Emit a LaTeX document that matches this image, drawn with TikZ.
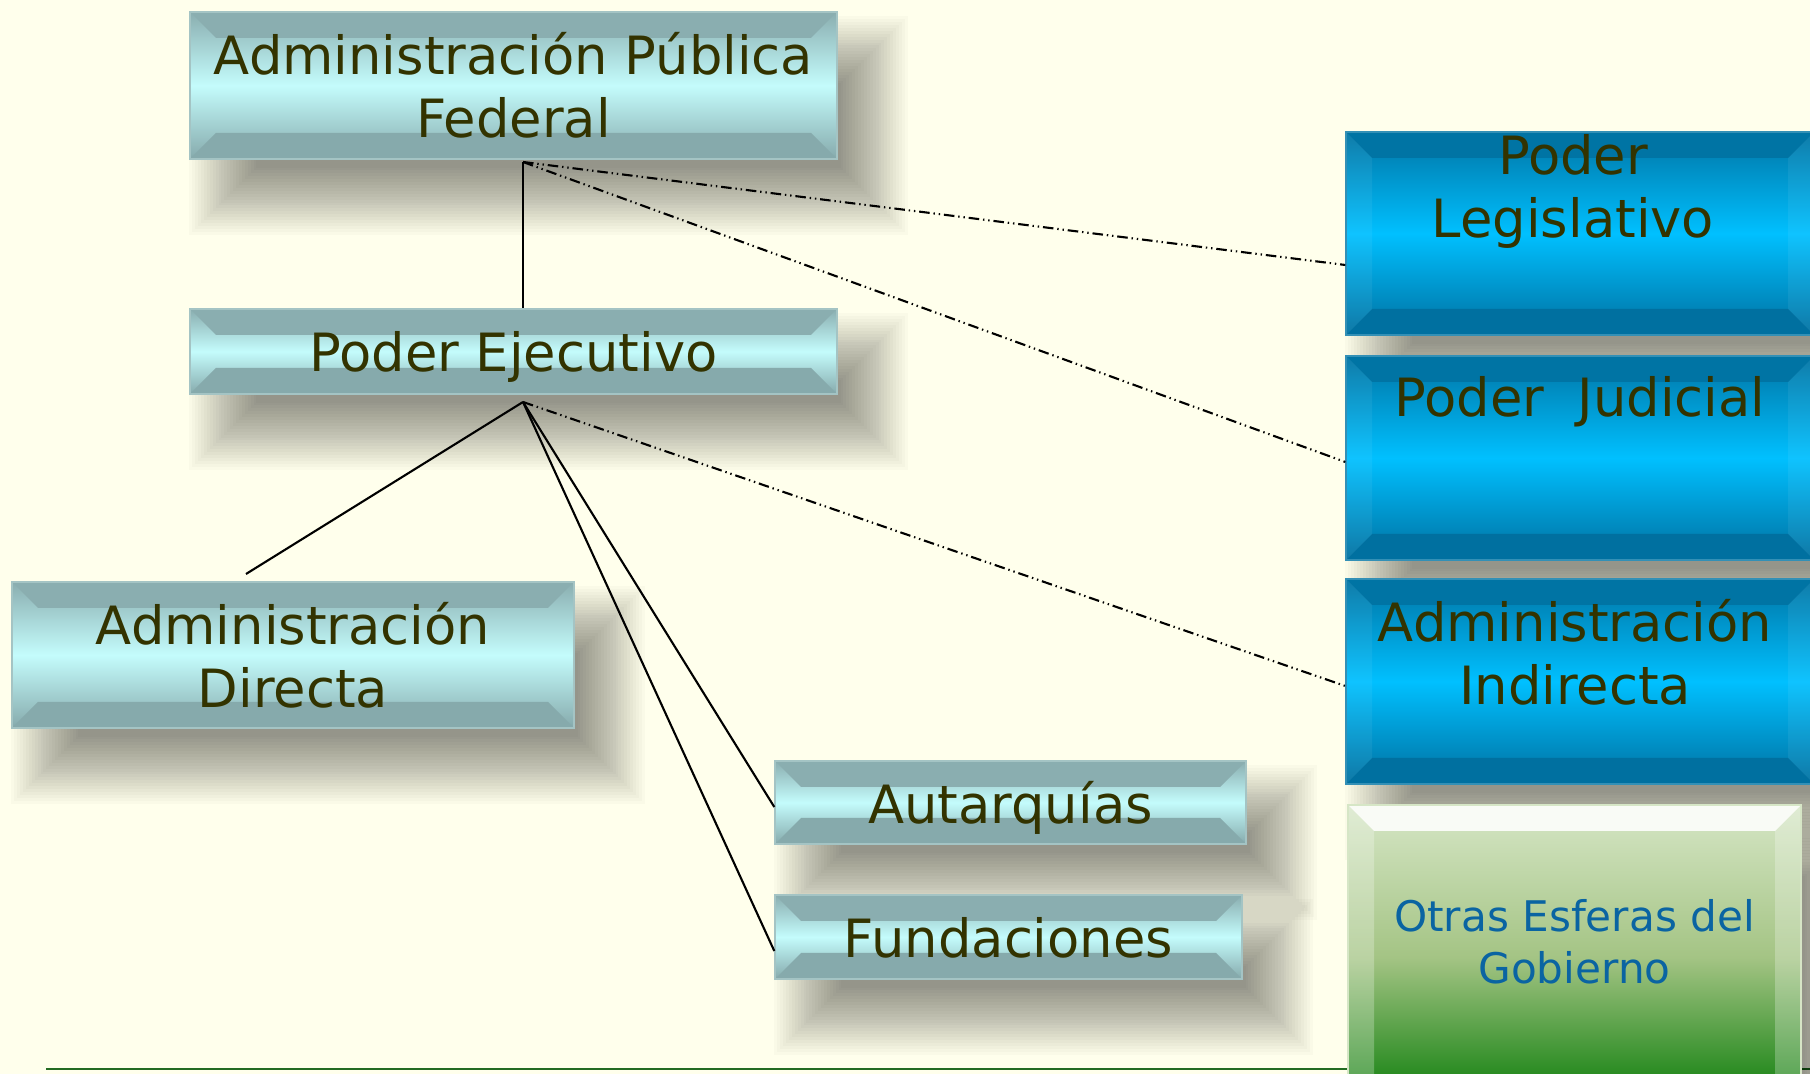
\documentclass[tikz,border=0pt]{standalone}
\usepackage{fontspec}
\setmainfont{DejaVu Sans}
\usetikzlibrary{positioning}

\definecolor{paper}{HTML}{FFFFEC}
\definecolor{olivetext}{HTML}{333300}
\definecolor{bluetext}{HTML}{0A64A2}
\definecolor{tealtop}{HTML}{8AAEB0}
\definecolor{tealmid}{HTML}{C4FCFC}
\definecolor{tealbot}{HTML}{86AAAC}
\definecolor{tealedge}{HTML}{A4C4C4}
\definecolor{bluetop}{HTML}{0074A4}
\definecolor{bluemid}{HTML}{00C0FF}
\definecolor{bluebot}{HTML}{0070A0}
\definecolor{greentop}{HTML}{D6E6C6}
\definecolor{greenmid}{HTML}{A4C484}
\definecolor{greenbot}{HTML}{047A04}
\definecolor{rulegreen}{HTML}{236B23}

\pgfdeclarelayer{background}
\pgfsetlayers{background,main}

\newcommand{\bevelsz}{0.26cm}

\tikzset{
  facets/.style n args={4}{path picture={
    \path (path picture bounding box.north west) coordinate (pp-nw)
          (path picture bounding box.north east) coordinate (pp-ne)
          (path picture bounding box.south west) coordinate (pp-sw)
          (path picture bounding box.south east) coordinate (pp-se);
    \fill[#1] (pp-nw) -- (pp-ne) -- ([shift={(-\bevelsz,-\bevelsz)}]pp-ne) -- ([shift={(\bevelsz,-\bevelsz)}]pp-nw) -- cycle;
    \fill[#2] (pp-sw) -- (pp-se) -- ([shift={(-\bevelsz,\bevelsz)}]pp-se) -- ([shift={(\bevelsz,\bevelsz)}]pp-sw) -- cycle;
    \fill[#3,opacity=#4] (pp-nw) -- ([shift={(\bevelsz,-\bevelsz)}]pp-nw) -- ([shift={(\bevelsz,\bevelsz)}]pp-sw) -- (pp-sw) -- cycle;
    \fill[#3,opacity=#4] (pp-ne) -- ([shift={(-\bevelsz,-\bevelsz)}]pp-ne) -- ([shift={(-\bevelsz,\bevelsz)}]pp-se) -- (pp-se) -- cycle;
  }},
  panel/.style={rectangle, inner sep=0pt, align=center, text=olivetext,
    font=\fontsize{15}{18}\selectfont},
  tealbox/.style={panel, draw=tealedge, line width=0.4pt,
    top color=tealtop, bottom color=tealbot, middle color=tealmid,
    facets={tealtop}{tealbot}{white}{0}},
  bluebox/.style={panel, draw=bluetop!80!white, line width=0.4pt,
    top color=bluetop, bottom color=bluebot, middle color=bluemid,
    facets={bluetop}{bluebot}{white}{0.06}},
  greenbox/.style={panel, draw=greentop, line width=0.4pt,
    top color=greentop, bottom color=greenbot, middle color=greenmid,
    facets={white!85!greentop}{greenbot}{white}{0.25}},
  paneltext/.style={inner sep=0pt, align=center, text=olivetext, font=\fontsize{15}{18}\selectfont},
  softshadow/.style={black, opacity=0.02},
  link/.style={draw=black, line width=0.6pt},
  dotlink/.style={draw=black, line width=0.6pt,
    dash pattern=on 3pt off 1.1pt on 0.4pt off 1.1pt on 0.4pt off 1.1pt}
}

\begin{document}
\begin{tikzpicture}
    \useasboundingbox (0,0) rectangle (18.10,10.74);
    \clip (0,0) rectangle (18.10,10.74);

    \node[tealbox, minimum width=6.47cm, minimum height=1.47cm] (apf) at (5.135,9.885) {Administración Pública\\Federal};
    \node[tealbox, text depth=0pt, minimum width=6.47cm, minimum height=0.85cm] (ejec) at (5.135,7.225) {Poder Ejecutivo};
    \node[tealbox, minimum width=5.62cm, minimum height=1.46cm] (directa) at (2.93,4.19) {Administración\\Directa};
    \node[tealbox, text depth=0pt, minimum width=4.71cm, minimum height=0.83cm] (autarq) at (10.105,2.715) {Autarquías};
    \node[tealbox, text depth=0pt, minimum width=4.67cm, minimum height=0.84cm] (fundac) at (10.085,1.37) {Fundaciones};

    \node[bluebox, minimum width=4.68cm, minimum height=2.03cm] (legis) at (15.80,8.405) {};
    \node[bluebox, minimum width=4.68cm, minimum height=2.04cm] (judicial) at (15.80,6.16) {};
    \node[bluebox, minimum width=4.68cm, minimum height=2.05cm] (indirecta) at (15.80,3.925) {};
    \node[paneltext, below=0.02cm of legis.north, xshift=-0.07cm] (legistext) {Poder\\Legislativo};
    \node[paneltext, below=0.2cm of judicial.north] (judicialtext) {Poder\ \ Judicial};
    \node[paneltext, below=0.2cm of indirecta.north, xshift=-0.05cm] (indirectatext) {Administración\\Indirecta};

    \node[greenbox, minimum width=4.53cm, minimum height=3.05cm] (otras) at (15.745,1.165) {};
    \node[paneltext, text=bluetext, font=\fontsize{12}{14.8}\selectfont] (otrastext) at (15.745,1.32) {Otras Esferas del\\Gobierno};

    % soft shadows, paper and rule behind the boxes
    \begin{pgfonlayer}{background}
        \fill[paper] (0,0) rectangle (18.10,10.74);
        \draw[rulegreen, line width=0.7pt] (0.46,0.05) -- (18.10,0.05);
        \foreach \n in {apf,ejec,directa,autarq,fundac,legis,judicial,indirecta,otras}
            \foreach \k in {0,...,23}
                \fill[softshadow] ([shift={(\k*0.0292,-0.75+\k*0.0292)}]\n.south west)
                    rectangle ([shift={(0.7-\k*0.0292,-0.05-\k*0.0292)}]\n.north east);
    \end{pgfonlayer}

    \coordinate (apfjoin) at (5.23,9.12);
    \coordinate (ejecjoin) at (5.23,6.72);
    \coordinate (dirjoin) at (2.46,5.00);
    \draw[link] (apfjoin) -- (apfjoin |- ejec.north);
    \draw[dotlink] (apfjoin) -- ([yshift=-0.315cm]legis.west);
    \draw[dotlink] (apfjoin) -- ([yshift=-0.04cm]judicial.west);
    \draw[link] (ejecjoin) -- (dirjoin);
    \draw[link] (ejecjoin) -- ([yshift=-0.045cm]autarq.west);
    \draw[link] (ejecjoin) -- ([yshift=-0.14cm]fundac.west);
    \draw[dotlink] (ejecjoin) -- ([yshift=-0.045cm]indirecta.west);
\end{tikzpicture}
\end{document}
